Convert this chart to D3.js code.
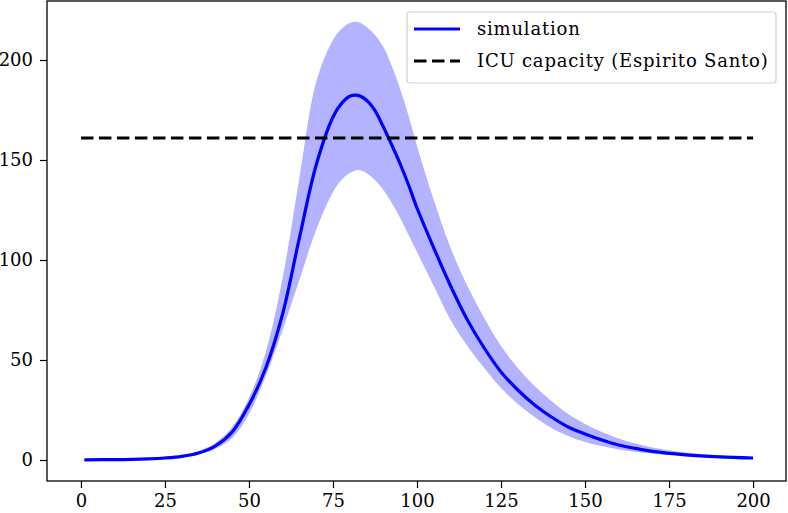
<!DOCTYPE html>
<html lang="en">
<head>
  <meta charset="utf-8">
  <title>ICU simulation</title>
  <script src="https://d3js.org/d3.v7.min.js"></script>
  <style>
  body { margin: 0; background: #fff; }
  text { font-family: "DejaVu Serif", "Liberation Serif", serif; font-size: 18px; fill: #000; }
  </style>
</head>
<body>
  <script>
    // days and values
    var days  = [1, 10, 20, 25, 30, 35, 40, 45, 50, 55, 60, 65, 70, 75, 77.5, 80, 82.5, 85, 87.5, 90, 92.5, 95, 97.5, 100,
                 105, 110, 115, 120, 125, 130, 135, 140, 145, 150, 155, 160, 165, 170, 180, 190, 200];
    var mean  = [0.1, 0.2, 0.6, 1.0, 1.8, 3.5, 7, 14, 27.5, 46, 73, 111, 147.5, 171.5, 178.2, 181.9, 182.3, 179.9, 174.7, 166.5, 157.5, 148, 137.5, 126,
                 106, 87, 70, 56, 44, 35, 27.5, 21.5, 16.5, 13, 10, 7.5, 5.8, 4.3, 2.6, 1.6, 1.0];
    var upper = [0.1, 0.2, 0.7, 1.2, 2.2, 4.5, 8.5, 16.5, 31, 54, 91, 141, 189, 210, 215.5, 218.5, 219, 216.5, 212.5, 206.5, 197, 185.5, 172, 157,
                 130, 106, 87, 71, 57, 46, 37, 29.5, 23, 18, 14, 10.8, 8.2, 6.3, 3.8, 2.3, 1.4];
    var lower = [0.1, 0.2, 0.5, 0.8, 1.4, 2.8, 5.5, 11, 23, 42, 65, 90, 115, 134, 140, 143.5, 145, 143.5, 140, 135, 128.5, 121, 112.5, 104,
                 87, 70, 57, 46, 36, 28, 21.5, 16, 12, 9, 7, 5.3, 4.1, 3.2, 2, 1.2, 0.8];
    var icuCapacity = 161;
    var xTicks = [0, 25, 50, 75, 100, 125, 150, 175, 200];
    var yTicks = [0, 50, 100, 150, 200];

    var w = 788, h = 513;
    var plotLeft = 47, plotRight = 786, plotTop = 1, plotBottom = 481;

    var x = d3.scaleLinear().domain([-10.1, 209.8]).range([plotLeft, plotRight]);
    var y = d3.scaleLinear().domain([-10.5, 229.5]).range([plotBottom, plotTop]);

    var rows = days.map(function(d, i) {
      return { t: d, m: mean[i], hi: upper[i], lo: lower[i] };
    });

    var svg = d3.select('body').append('svg')
      .attr('width', w)
      .attr('height', h);

    // confidence band
    svg.append('path')
      .datum(rows)
      .attr('fill', '#b3b3ff')
      .attr('d', d3.area()
        .x(function(d) { return x(d.t); })
        .y0(function(d) { return y(d.lo); })
        .y1(function(d) { return y(d.hi); })
        .curve(d3.curveCatmullRom.alpha(0.5)));

    // simulation mean
    svg.append('path')
      .datum(rows)
      .attr('fill', 'none')
      .attr('stroke', '#0000ff')
      .attr('stroke-width', 3.2)
      .attr('d', d3.line()
        .x(function(d) { return x(d.t); })
        .y(function(d) { return y(d.m); })
        .curve(d3.curveCatmullRom.alpha(0.5)));

    // ICU capacity
    svg.append('line')
      .attr('x1', x(0)).attr('x2', x(200))
      .attr('y1', y(icuCapacity)).attr('y2', y(icuCapacity))
      .attr('stroke', '#000')
      .attr('stroke-width', 3.2)
      .attr('stroke-dasharray', '12.5,5.5');

    // axes
    var xAxis = svg.append('g')
      .attr('transform', 'translate(0,' + plotBottom + ')')
      .call(d3.axisBottom(x).tickValues(xTicks).tickSize(7).tickPadding(6));
    var yAxis = svg.append('g')
      .attr('transform', 'translate(' + plotLeft + ',0)')
      .call(d3.axisLeft(y).tickValues(yTicks).tickSize(7).tickPadding(7));
    [xAxis, yAxis].forEach(function(g) {
      g.select('.domain').remove();
      g.selectAll('line').attr('stroke', '#000').attr('stroke-width', 1.2);
      g.selectAll('text').attr('font-size', 17.5).attr('font-family', null);
    });

    // frame
    svg.append('rect')
      .attr('x', plotLeft).attr('y', plotTop)
      .attr('width', plotRight - plotLeft).attr('height', plotBottom - plotTop)
      .attr('fill', 'none')
      .attr('stroke', '#000')
      .attr('stroke-width', 1.3);

    // legend
    var legend = svg.append('g');
    legend.append('rect')
      .attr('x', 407).attr('y', 12)
      .attr('width', 369).attr('height', 71)
      .attr('rx', 3)
      .attr('fill', '#fff')
      .attr('stroke', '#d0d0d0')
      .attr('stroke-width', 1.2);
    legend.append('line')
      .attr('x1', 414).attr('x2', 460).attr('y1', 29).attr('y2', 29)
      .attr('stroke', '#0000ff').attr('stroke-width', 3.2);
    legend.append('line')
      .attr('x1', 414).attr('x2', 460).attr('y1', 61).attr('y2', 61)
      .attr('stroke', '#000').attr('stroke-width', 3.2)
      .attr('stroke-dasharray', '12.5,5.5');
    legend.append('text').attr('x', 477).attr('y', 35).attr('letter-spacing', 0.8).text('simulation');
    legend.append('text').attr('x', 477).attr('y', 67).attr('letter-spacing', 0.8).text('ICU capacity (Espirito Santo)');
  </script>
</body>
</html>
